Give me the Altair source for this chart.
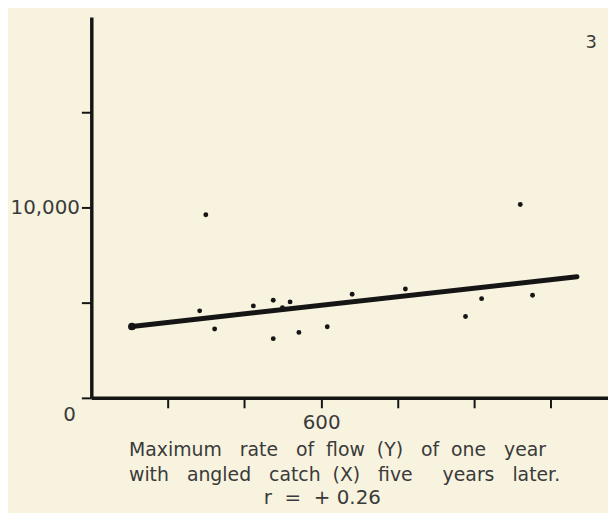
import altair as alt
import pandas as pd

# Data
catch_x = [299, 283, 322, 423, 475, 499, 519, 475, 542, 616, 681, 820, 1120, 1019, 977, 1152]
flow_y = [9619, 4569, 3614, 4830, 5128, 4741, 5039, 3107, 3436, 3734, 5441, 5718, 10157, 5211, 4272, 5389]
fit_x = [106, 1268]
fit_y = [3749, 6360]
x_ticks = [200, 400, 600, 800, 1000, 1200]
y_ticks = [0, 5000, 10000, 15000]

pts = pd.DataFrame({"x": catch_x, "y": flow_y})
fit = pd.DataFrame({"x": fit_x, "y": fit_y})

FONT = "DejaVu Sans"
TXT = "#3a3a3a"
INK = "#151515"
S = "\u00a0"

xs = alt.Scale(domain=[0, 1349], nice=False, zero=False)
ys = alt.Scale(domain=[0, 20000], nice=False, zero=False)

xax = alt.Axis(values=x_ticks, labelExpr="datum.value == 600 ? '600' : ''",
               title=None, grid=False, domainColor=INK, domainWidth=3.5,
               tickColor=INK, tickWidth=2, tickSize=10, labelPadding=5,
               labelFontSize=20, labelColor=TXT, labelFont=FONT)
yax = alt.Axis(values=y_ticks, labelExpr="datum.value == 10000 ? '10,000' : ''",
               title=None, grid=False, domainColor=INK, domainWidth=3.5,
               tickColor=INK, tickWidth=2, tickSize=10, labelPadding=2,
               labelFontSize=20, labelColor=TXT, labelFont=FONT)

points = alt.Chart(pts).mark_point(filled=True, color=INK, size=24, opacity=1).encode(
    x=alt.X("x:Q", scale=xs, axis=xax),
    y=alt.Y("y:Q", scale=ys, axis=yax),
)

line = alt.Chart(fit).mark_line(color=INK, strokeWidth=5, strokeCap="round").encode(
    x=alt.X("x:Q", scale=xs),
    y=alt.Y("y:Q", scale=ys),
)

start = alt.Chart(fit.iloc[[0]]).mark_point(filled=True, color=INK, size=60, opacity=1).encode(
    x=alt.X("x:Q", scale=xs),
    y=alt.Y("y:Q", scale=ys),
)

def label(text, x, y, size, align="left", baseline="alphabetic"):
    return alt.Chart(pd.DataFrame({"t": [text]})).mark_text(
        font=FONT, fontSize=size, color=TXT, align=align, baseline=baseline
    ).encode(x=alt.value(x), y=alt.value(y), text="t:N")

line1 = (S * 3).join(["Maximum", "rate", "of"]) + S * 2 + "flow" + S * 2 + "(Y)" + S * 3 + "of" + S * 2 + "one" + S * 3 + "year"
line2 = "with" + S * 3 + "angled" + S * 3 + "catch" + S * 2 + "(X)" + S * 3 + "five" + S * 5 + "years" + S * 3 + "later."
line3 = "r" + S * 2 + "=" + S * 2 + "+" + S + "0.26"

zero = label("0", -22, 401, 20, align="center", baseline="middle")
panel = label("3", 504, 26, 18, align="center", baseline="middle")
cap1 = label(line1, 38, 443, 19)
cap2 = label(line2, 38, 468, 19)
cap3 = label(line3, 233, 491, 20, align="center")

chart = alt.layer(line, start, points, zero, panel, cap1, cap2, cap3).properties(
    width=521, height=384,
    autosize=alt.AutoSizeParams(type="none"),
    padding={"left": 84, "top": 7, "right": 0, "bottom": 114},
    background="#f8f3df",
).configure_view(stroke=None)

chart.save("out.html", embed_options={"renderer": "svg", "actions": False})
